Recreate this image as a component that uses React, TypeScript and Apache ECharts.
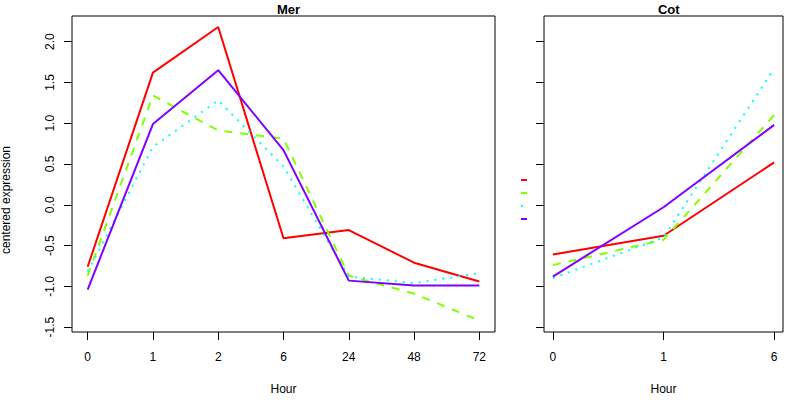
import React, { useEffect, useRef } from "react";
import * as echarts from "echarts";

const merHours = ["0", "1", "2", "6", "24", "48", "72"];
const cotHours = ["0", "1", "6"];
const yTicks = [-1.5, -1.0, -0.5, 0.0, 0.5, 1.0, 1.5, 2.0];

const merRed = [-0.76, 1.62, 2.18, -0.41, -0.31, -0.71, -0.94];
const merGreen = [-0.87, 1.34, 0.91, 0.81, -0.87, -1.09, -1.42];
const merCyan = [-0.82, 0.71, 1.28, 0.47, -0.88, -0.96, -0.84];
const merPurple = [-1.04, 0.99, 1.65, 0.67, -0.93, -0.99, -0.99];

const cotRed = [-0.61, -0.38, 0.52];
const cotGreen = [-0.74, -0.43, 1.1];
const cotCyan = [-0.9, -0.4, 1.67];
const cotPurple = [-0.88, -0.03, 0.98];

const colors = ["#FF0000", "#80FF00", "#00FFFF", "#8000FF"];
const dashes: any[] = ["solid", [8, 8], [2, 6], "solid"];

const FONT = "'Liberation Sans', Arial, sans-serif";

export default function App() {
  const ref = useRef<HTMLDivElement>(null);
  useEffect(() => {
    if (!ref.current) return;
    const chart = echarts.init(ref.current, null, { renderer: "svg" });
    const toPairs = (vals: number[]) => vals.map((v, i) => [i, v]);
    const mkSeries = (vals: number[], k: number, idx: number) => ({
      type: "line",
      xAxisIndex: idx,
      yAxisIndex: idx,
      data: toPairs(vals),
      symbol: "none",
      silent: true,
      lineStyle: { color: colors[k], width: 2, type: dashes[k], cap: "butt" },
    });
    const yAxisBase = (idx: number, showLabels: boolean) => ({
      type: "value",
      gridIndex: idx,
      position: "left",
      min: -1.56,
      max: 2.315,
      splitLine: { show: false },
      axisLine: { show: false, onZero: false },
      axisTick: {
        show: true,
        length: 8,
        customValues: yTicks,
        lineStyle: { color: "#000", width: 1 },
      },
      axisLabel: {
        show: showLabels,
        customValues: yTicks,
        rotate: 90,
        margin: 16,
        color: "#000",
        fontSize: 12,
        fontFamily: FONT,
        formatter: (v: number) => v.toFixed(1),
      },
    });
    const xAxisBase = (idx: number, labels: string[], pad: number) => ({
      type: "value",
      gridIndex: idx,
      position: "bottom",
      min: -pad,
      max: labels.length - 1 + pad,
      splitLine: { show: false },
      axisLine: { show: false, onZero: false },
      name: "Hour",
      nameLocation: "middle",
      nameGap: 51,
      nameTextStyle: { color: "#000", fontSize: 12, fontFamily: FONT },
      axisTick: {
        show: true,
        length: 8,
        customValues: labels.map((_, i) => i),
        lineStyle: { color: "#000", width: 1 },
      },
      axisLabel: {
        customValues: labels.map((_, i) => i),
        margin: 19,
        color: "#000",
        fontSize: 12,
        fontFamily: FONT,
        formatter: (v: number) => labels[Math.round(v)] ?? "",
      },
    });
    const legendYs = [180, 193, 206, 219];
    chart.setOption({
      animation: false,
      backgroundColor: "#fff",
      title: [
        {
          text: "Mer",
          left: 283.5,
          top: -2,
          textAlign: "center",
          textStyle: { fontSize: 13, fontWeight: "bold", color: "#000", fontFamily: FONT },
        },
        {
          text: "Cot",
          left: 663.8,
          top: -2,
          textAlign: "center",
          textStyle: { fontSize: 13, fontWeight: "bold", color: "#000", fontFamily: FONT },
        },
      ],
      grid: [
        { left: 72, top: 16, width: 423, height: 320, show: true, borderColor: "#000", borderWidth: 1, backgroundColor: "transparent" },
        { left: 544, top: 16, width: 239, height: 320, show: true, borderColor: "#000", borderWidth: 1, backgroundColor: "transparent" },
      ],
      xAxis: [xAxisBase(0, merHours, 0.24), xAxisBase(1, cotHours, 0.08)],
      yAxis: [yAxisBase(0, true), yAxisBase(1, false)],
      series: [
        mkSeries(merRed, 0, 0),
        mkSeries(merGreen, 1, 0),
        mkSeries(merCyan, 2, 0),
        mkSeries(merPurple, 3, 0),
        mkSeries(cotRed, 0, 1),
        mkSeries(cotGreen, 1, 1),
        mkSeries(cotCyan, 2, 1),
        mkSeries(cotPurple, 3, 1),
      ],
      graphic: [
        {
          type: "text",
          x: 6,
          y: 200,
          rotation: Math.PI / 2,
          style: {
            text: "centered expression",
            fill: "#000",
            fontSize: 12,
            fontFamily: FONT,
            align: "center",
            verticalAlign: "middle",
          },
        },
        ...legendYs.map((y, k) => ({
          type: "line",
          shape: { x1: 521, y1: y, x2: 527, y2: y },
          style: { stroke: colors[k], lineWidth: 2, lineDash: k === 1 ? [8, 8] : k === 2 ? [2, 6] : null },
        })),
      ],
    });
    return () => chart.dispose();
  }, []);
  return (
    <div
      ref={ref}
      style={{ position: "absolute", left: 0, top: 0, width: 800, height: 400 }}
    />
  );
}
